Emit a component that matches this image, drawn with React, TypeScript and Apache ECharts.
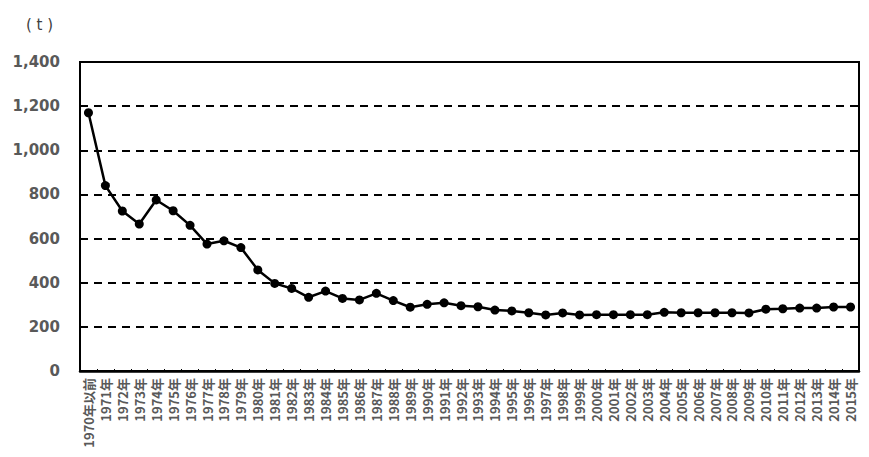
import React, { useEffect, useRef } from "react";
import * as echarts from "echarts";

const categories: string[] = ["1970年以前"];
const years = [
  1971, 1972, 1973, 1974, 1975, 1976, 1977, 1978, 1979, 1980, 1981, 1982, 1983, 1984, 1985,
  1986, 1987, 1988, 1989, 1990, 1991, 1992, 1993, 1994, 1995, 1996, 1997, 1998, 1999, 2000,
  2001, 2002, 2003, 2004, 2005, 2006, 2007, 2008, 2009, 2010, 2011, 2012, 2013, 2014, 2015,
];
years.forEach((y) => categories.push(y + "年"));

const values = [
  1170, 840, 725, 666, 775, 726, 660, 575, 590, 559, 458, 397, 374, 334, 362, 329,
  322, 352, 319, 289, 302, 309, 296, 291, 276, 272, 264, 254, 263, 254, 255,
  255, 255, 255, 266, 264, 264, 264, 264, 263, 280, 282, 285, 285, 290, 290,
];

const unitLabel = "( t )";

export default function App() {
  const ref = useRef<HTMLDivElement>(null);
  useEffect(() => {
    if (!ref.current) return;
    const chart = echarts.init(ref.current, null, { renderer: "svg" });
    chart.setOption({
      animation: false,
      backgroundColor: "#ffffff",
      graphic: [
        {
          type: "text",
          left: 26,
          top: 17,
          style: {
            text: unitLabel,
            fill: "#404040",
            font: "15px 'DejaVu Sans'",
          },
        },
      ],
      grid: {
        left: 80,
        right: 10,
        top: 62,
        bottom: 86,
        show: true,
        borderColor: "#000",
        borderWidth: 2,
        backgroundColor: "transparent",
      },
      xAxis: {
        type: "category",
        data: categories,
        boundaryGap: true,
        axisLine: { show: true, lineStyle: { color: "#000", width: 2.5 } },
        axisTick: { show: true, inside: true, length: 2, lineStyle: { color: "#000", width: 1 } },
        axisLabel: {
          interval: 0,
          rotate: 90,
          margin: 7,
          color: "#595959",
          fontSize: 13,
          fontWeight: "bold",
          fontFamily: "'Noto Sans CJK JP'",
        },
      },
      yAxis: {
        type: "value",
        min: 0,
        max: 1400,
        interval: 200,
        axisLine: { show: true, lineStyle: { color: "#000", width: 2 } },
        axisTick: { show: false },
        axisLabel: {
          margin: 20,
          color: "#595959",
          fontSize: 15,
          fontWeight: "bold",
          fontFamily: "'DejaVu Sans'",
          formatter: (v: number) => v.toLocaleString("en-US"),
        },
        splitLine: {
          show: true,
          lineStyle: { color: "#000", width: 2, type: [8, 6] },
        },
      },
      series: [
        {
          type: "line",
          data: values,
          symbol: "circle",
          symbolSize: 9,
          itemStyle: { color: "#000" },
          lineStyle: { color: "#000", width: 2.5 },
        },
      ],
    });
    return () => chart.dispose();
  }, []);
  return <div ref={ref} style={{ width: 869, height: 457, margin: -8 }} />;
}
